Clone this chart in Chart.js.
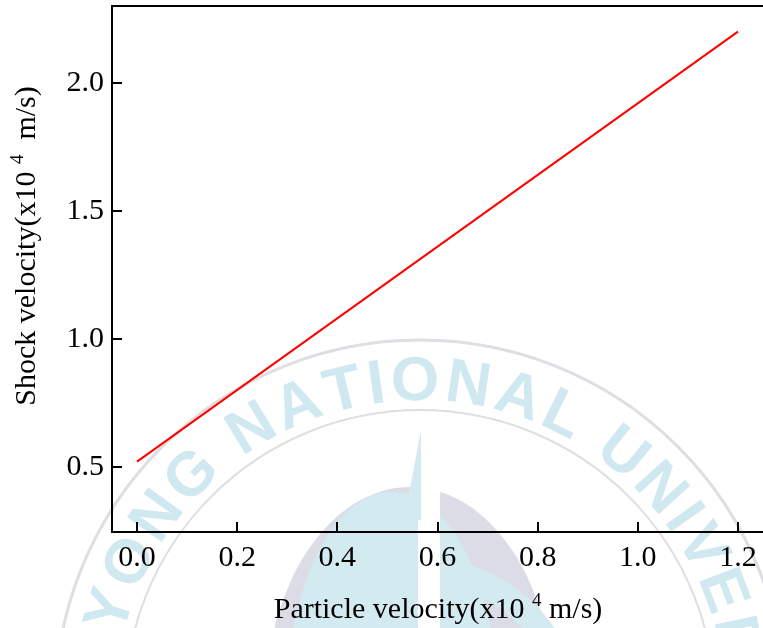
<!DOCTYPE html>
<html>
<head>
<meta charset="utf-8">
<script src="https://cdn.jsdelivr.net/npm/chart.js@4/dist/chart.umd.min.js"></script>
<style>
  html, body { margin: 0; padding: 0; background: #fff; overflow: hidden; }
</style>
</head>
<body>
<canvas id="hugoniot" width="763" height="628"></canvas>
<script>
// Us-up relation (x10^4 m/s)
const particleVelocity = [0.0, 1.2];
const shockVelocity = [0.52, 2.2];
const xTickValues = [0.0, 0.2, 0.4, 0.6, 0.8, 1.0, 1.2];
const yTickValues = [0.5, 1.0, 1.5, 2.0];

const SERIF = "'Liberation Serif', 'Times New Roman', serif";

// faint university seal behind the plot
const sealPlugin = {
  id: "seal",
  beforeDraw(chart) {
    const ctx = chart.ctx;
    const cx = 420, cy = 705;
    ctx.save();

    // emblem body
    ctx.fillStyle = "#dcdce6";
    ctx.beginPath();
    ctx.ellipse(410, 705, 145, 218, 0, 0, Math.PI * 2);
    ctx.fill();
    ctx.fillStyle = "#d3eaf1";
    ctx.beginPath();
    ctx.ellipse(392, 700, 105, 208, 0, 0, Math.PI * 2);
    ctx.fill();
    ctx.fillStyle = "#ffffff";
    ctx.fillRect(418, 430, 22, 200);
    ctx.fillStyle = "#d3eaf1";
    ctx.beginPath();
    ctx.moveTo(404, 520);
    ctx.lineTo(421, 430);
    ctx.lineTo(421, 520);
    ctx.closePath();
    ctx.fill();
    ctx.strokeStyle = "#d3eaf1";
    ctx.lineWidth = 26;
    ctx.beginPath();
    ctx.arc(420, 720, 150, -1.25, -0.15);
    ctx.stroke();

    // rings
    ctx.strokeStyle = "#dedee3";
    ctx.lineWidth = 3;
    ctx.beginPath();
    ctx.arc(cx, cy, 365, 0, Math.PI * 2);
    ctx.stroke();
    ctx.lineWidth = 2;
    ctx.beginPath();
    ctx.arc(cx, cy, 295, 0, Math.PI * 2);
    ctx.stroke();

    // lettering around the ring
    const text = "PUKYONG NATIONAL UNIVERSITY";
    const r = 305;
    ctx.font = "bold 62px 'Liberation Sans', 'DejaVu Sans', sans-serif";
    ctx.fillStyle = "#d0e8f0";
    ctx.textAlign = "center";
    ctx.textBaseline = "alphabetic";
    const widths = [...text].map(ch => ctx.measureText(ch).width + 4);
    const startNat = text.indexOf("NATIONAL");
    let before = 0;
    for (let i = 0; i < startNat; i++) before += widths[i];
    let natW = 0;
    for (let i = startNat; i < startNat + 8; i++) natW += widths[i];
    let a = -Math.PI / 2 - 0.05 - (before + natW / 2) / r;
    for (let i = 0; i < text.length; i++) {
      const w = widths[i];
      const mid = a + (w / 2) / r;
      ctx.save();
      ctx.translate(cx + r * Math.cos(mid), cy + r * Math.sin(mid));
      ctx.rotate(mid + Math.PI / 2);
      ctx.fillText(text[i], 0, 0);
      ctx.restore();
      a += w / r;
    }
    ctx.restore();
  }
};

function drawSupText(ctx, parts, x, y, angle) {
  const mainFont = "30px " + SERIF;
  const supFont = "19px " + SERIF;
  ctx.save();
  ctx.translate(x, y);
  ctx.rotate(angle);
  let total = 0;
  parts.forEach(p => {
    ctx.font = p.sup ? supFont : mainFont;
    total += ctx.measureText(p.t).width;
  });
  let pos = -total / 2;
  ctx.fillStyle = "#000";
  ctx.textBaseline = "alphabetic";
  ctx.textAlign = "left";
  parts.forEach(p => {
    ctx.font = p.sup ? supFont : mainFont;
    ctx.fillText(p.t, pos, p.sup ? -12 : 0);
    pos += ctx.measureText(p.t).width;
  });
  ctx.restore();
}

// inward ticks, top frame line and axis titles
const framePlugin = {
  id: "frame",
  afterDraw(chart) {
    const { ctx, chartArea, scales } = chart;
    ctx.save();
    ctx.strokeStyle = "#000";
    ctx.lineWidth = 2;
    ctx.beginPath();
    ctx.moveTo(chartArea.left - 1, chartArea.top);
    ctx.lineTo(chartArea.right + 2, chartArea.top);
    xTickValues.forEach(v => {
      const px = Math.round(scales.x.getPixelForValue(v));
      ctx.moveTo(px, chartArea.bottom);
      ctx.lineTo(px, chartArea.bottom - 10);
    });
    yTickValues.forEach(v => {
      const py = Math.round(scales.y.getPixelForValue(v));
      ctx.moveTo(chartArea.left, py);
      ctx.lineTo(chartArea.left + 10, py);
    });
    ctx.stroke();
    ctx.restore();

    drawSupText(ctx, [
      { t: "Particle velocity(x10 " },
      { t: "4", sup: true },
      { t: " m/s)" }
    ], 438, 618, 0);
    drawSupText(ctx, [
      { t: "Shock velocity(x10 " },
      { t: "4", sup: true },
      { t: "  m/s)" }
    ], 35, 246, -Math.PI / 2);
  }
};

const tickFont = { family: SERIF, size: 30 };

new Chart(document.getElementById("hugoniot"), {
  type: "line",
  data: {
    datasets: [{
      data: particleVelocity.map((x, i) => ({ x: x, y: shockVelocity[i] })),
      borderColor: "#ff0000",
      borderWidth: 2,
      pointRadius: 0,
      tension: 0,
      fill: false
    }]
  },
  options: {
    responsive: false,
    animation: false,
    devicePixelRatio: 1,
    layout: { padding: { top: 6, right: 0, left: 0, bottom: 0 } },
    plugins: { legend: { display: false }, tooltip: { enabled: false } },
    scales: {
      x: {
        type: "linear",
        min: -0.05,
        max: 1.25,
        afterBuildTicks: s => { s.ticks = xTickValues.map(v => ({ value: v })); },
        afterFit: s => { s.height = 96; s.paddingLeft = 0; s.paddingRight = 0; },
        grid: { display: false, drawTicks: false },
        border: { color: "#000", width: 2 },
        ticks: {
          color: "#000",
          font: tickFont,
          padding: 8,
          maxRotation: 0,
          autoSkip: false,
          callback: v => v.toFixed(1)
        }
      },
      y: {
        type: "linear",
        min: 0.245,
        max: 2.3,
        afterBuildTicks: s => { s.ticks = yTickValues.map(v => ({ value: v })); },
        afterFit: s => { s.width = 112; s.paddingTop = 0; s.paddingBottom = 0; },
        grid: { display: false, drawTicks: false },
        border: { color: "#000", width: 2 },
        ticks: {
          color: "#000",
          font: tickFont,
          padding: 8,
          autoSkip: false,
          callback: v => v.toFixed(1)
        }
      }
    }
  },
  plugins: [sealPlugin, framePlugin]
});
</script>
</body>
</html>
